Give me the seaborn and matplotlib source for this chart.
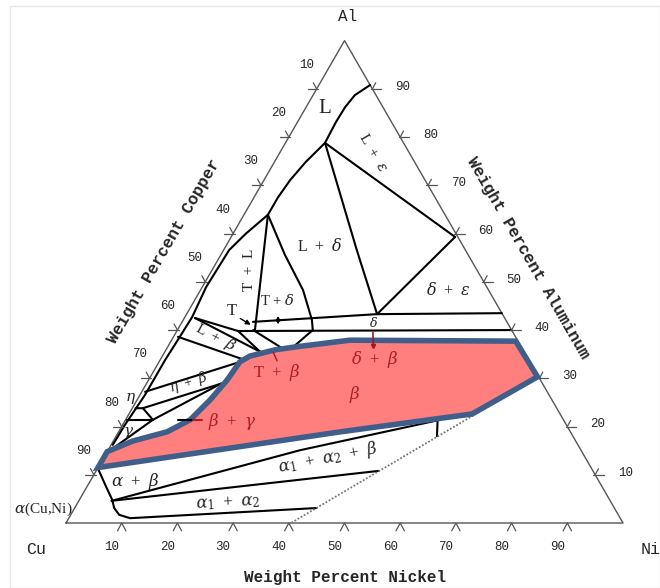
import numpy as np
import pandas as pd
import matplotlib.pyplot as plt
from matplotlib.patches import Rectangle
import seaborn as sns

sns.set_style("white")
plt.rcParams["mathtext.fontset"] = "dejavuserif"

# Phase boundaries, each point is (wt% Ni, wt% Al); Cu is the balance
liquidus = [(9.2, 90.8), (7.5, 88.7), (7.0, 86.2), (6.9, 83.1), (7.0, 80.9), (7.1, 78.8),
            (5.6, 74.8), (4.7, 71.1), (4.3, 67.5), (4.3, 63.9), (2.3, 60.0),
            (1.0, 56.6), (0.7, 48.9), (1.3, 42.7), (1.1, 37.9), (0.9, 33.8), (0.9, 26.5),
            (0.4, 20.3), (0.3, 16.2)]
tie_l_eps = [(7.1, 78.8), (40.2, 59.3)]
l_delta = [(7.1, 78.8), (23.9, 56.6), (34.2, 43.3)]
eps_delta = [(40.2, 59.3), (34.2, 43.3)]
delta_upper = [(12.7, 41.7), (34.2, 43.3), (56.5, 43.5)]
delta_lower = [(11.0, 39.8), (60.0, 40.0)]
t_l = [(4.3, 63.9), (14.0, 39.8)]
t_delta = [(4.3, 63.9), (11.5, 55.6), (18.4, 48.3), (23.1, 42.1), (24.3, 40.0), (22.6, 36.6)]
l_beta_upper = [(1.9, 42.5), (17.1, 35.5)]
l_beta_t = [(1.9, 42.5), (11.0, 39.8), (17.1, 35.5)]
l_beta_lower = [(0.8, 38.6), (14.6, 34.0)]
t_beta = [(13.6, 40.0), (20.2, 36.5)]
eta_upper = [(0.6, 27.2), (14.1, 33.2)]
eta_lower = [(1.9, 23.8), (13.4, 28.9)]
eta_gamma = [(0.6, 23.8), (1.9, 23.8), (4.9, 21.4), (13.4, 28.9)]
gamma_top = [(0.3, 21.4), (4.9, 21.4)]
gamma_beta = [(0.5, 15.2), (4.9, 21.4)]
alpha_solvus = [(0.0, 11.4), (3.1, 7.9), (5.9, 4.8), (7.1, 3.1), (8.7, 1.7), (11.0, 1.0), (43.4, 3.1)]
alpha_upper = [(5.9, 4.6), (50.7, 10.8)]
alpha_beta = [(5.9, 4.6), (34.5, 15.1), (56.5, 21.4)]
tie_short = [(56.2, 21.0), (57.6, 18.0)]
dotted_limit = [(69.7, 30.3), (40.4, 0.0)]

# highlighted beta field
beta_ni = [0.0, 0.0, 3.5, 8.7, 11.6, 13.1, 14.1, 14.5, 15.7, 19.6, 22.9, 32.0, 61.9, 69.5, 61.6, 39.8]
beta_al = [11.5, 14.8, 17.0, 18.9, 21.4, 25.5, 29.6, 33.4, 34.6, 35.9, 36.5, 37.9, 37.7, 30.3, 22.6, 18.9]

tick_values = [10, 20, 30, 40, 50, 60, 70, 80, 90]

# phase labels: text, wt% Ni, wt% Al, rotation, size
black_labels = [
    ("L", 3.5, 86.0, 0, 15),
    ("L  +  $\\varepsilon$", 16.7, 76.9, -60, 11),
    ("L  +  $\\delta$", 16.9, 57.4, 0, 11.5),
    ("T  +  L", 6.7, 52.4, 90, 11),
    ("T + $\\delta$", 14.8, 46.2, 0, 10.5),
    ("$\\delta$  +  $\\varepsilon$", 44.4, 48.3, 0, 11.5),
    ("$\\delta$", 34.4, 41.5, 0, 9),
    ("L  +  $\\beta$", 7.6, 38.6, -28, 11),
    ("$\\eta$  +  $\\beta$", 7.3, 29.2, 17, 10),
    ("$\\eta$", -1.3, 25.9, 0, 11),
    ("$\\gamma$", 1.8, 18.7, 0, 11),
    ("$\\alpha$  +  $\\beta$", 8.0, 8.7, 0, 12),
    ("$\\alpha_1$  +  $\\alpha_2$  +  $\\beta$", 40.3, 13.5, 11, 12),
    ("$\\alpha_1$  +  $\\alpha_2$", 27.0, 4.15, 3, 12),
    ("$\\alpha$(Cu,Ni)", -5.6, 2.9, 0, 11),
]
red_labels = [
    ("$\\beta$  +  $\\gamma$", 19.3, 21.1),
    ("T  +  $\\beta$", 22.2, 31.3),
    ("$\\delta$  +  $\\beta$", 38.4, 33.8),
    ("$\\beta$", 38.5, 26.7),
]


def tern(ni, al):
    ni = np.asarray(ni, dtype=float)
    al = np.asarray(al, dtype=float)
    return ni + al / 2, al * np.sqrt(3) / 2


boundaries = {
    "liquidus": liquidus, "tie_l_eps": tie_l_eps, "l_delta": l_delta, "eps_delta": eps_delta,
    "delta_upper": delta_upper, "delta_lower": delta_lower, "t_l": t_l, "t_delta": t_delta,
    "l_beta_upper": l_beta_upper, "l_beta_t": l_beta_t, "l_beta_lower": l_beta_lower,
    "t_beta": t_beta, "eta_upper": eta_upper, "eta_lower": eta_lower, "eta_gamma": eta_gamma,
    "gamma_top": gamma_top, "gamma_beta": gamma_beta, "alpha_solvus": alpha_solvus,
    "alpha_upper": alpha_upper, "alpha_beta": alpha_beta, "tie_short": tie_short,
}
rows = []
for name, pts in boundaries.items():
    for ni, al in pts:
        x, y = tern(ni, al)
        rows.append((name, float(x), float(y)))
df = pd.DataFrame(rows, columns=["boundary", "x", "y"])

fig = plt.figure(figsize=(6.6, 5.88), dpi=100)
ax = fig.add_axes([0, 0, 1, 1])

# faint frame like the scanned page
fig.patches.append(Rectangle((0.015, 0.0), 0.985, 0.99, transform=fig.transFigure,
                             fill=False, edgecolor="#e8e8e8", lw=1))

# triangle edges
cx, cy = tern([0, 100, 0, 0], [0, 0, 100, 0])
ax.plot(cx, cy, color="#555555", lw=1.0, zorder=1)

sns.lineplot(data=df, x="x", y="y", units="boundary", estimator=None, sort=False,
             color="black", lw=1.5, ax=ax, zorder=2)

dx, dy = tern([p[0] for p in dotted_limit], [p[1] for p in dotted_limit])
ax.plot(dx, dy, color="#777777", lw=1.3, ls=(0, (1, 1)), zorder=2)

# small arrows / pointers
ax.annotate("", xy=tern(17.8, 40.6), xytext=tern(16.3, 43.5),
            arrowprops=dict(arrowstyle="<|-|>", color="black", lw=1, mutation_scale=6))
ax.annotate("", xy=tern(13.2, 40.8), xytext=tern(9.5, 42.7),
            arrowprops=dict(arrowstyle="-|>", color="black", lw=1, mutation_scale=7))
ax.text(*tern(7.8, 43.95), "T", family="Liberation Serif", fontsize=12, ha="center", va="center")

bx, by = tern(beta_ni, beta_al)
ax.fill(bx, by, facecolor="#ff7f7f", edgecolor="#3f5f8a", lw=4, zorder=3)

ax.plot(*tern([35.3, 36.8], [39.6, 36.7]), color="#a01820", lw=1.2, zorder=4)
ax.plot(*tern([36.8], [36.7]), marker="v", ms=3, color="#a01820", zorder=4)
ax.plot(*tern([19.5, 21.1], [35.4, 33.6]), color="#a01820", lw=1.0, zorder=4)
ax.plot(*tern([9.4, 12.2], [21.35, 21.35]), color="black", lw=1.5, zorder=4)
ax.plot(*tern([12.2, 13.8], [21.35, 21.35]), color="#b01e23", lw=1.5, zorder=4)

for txt, ni, al, rot, size in black_labels:
    ax.text(*tern(ni, al), txt, family="Liberation Serif", fontsize=size, rotation=rot,
            ha="center", va="center", zorder=5)
for txt, ni, al in red_labels:
    ax.text(*tern(ni, al), txt, family="Liberation Serif", fontsize=12, color="#b01e23",
            ha="center", va="center", zorder=5)

# ticks and tick labels on the three sides
tl = 1.6
for t in tick_values:
    # bottom: Ni
    x, y = tern(t, 0)
    ax.plot([x - 0.75, x, x + 0.75], [y - 1.4, y, y - 1.4], color="#555555", lw=0.9)
    ax.text(x - 1.8, y - 4.3, str(t), family="Liberation Mono", fontsize=9,
            ha="center", va="center")
    # left: Cu
    x, y = tern(0, 100 - t)
    ax.plot([x - tl, x + 0.3], [y, y], color="#555555", lw=0.9)
    ax.plot([x - 0.6, x], [y + 1.1, y], color="#555555", lw=0.9)
    ax.text(x - 1.8, y + 4.3, str(t), family="Liberation Mono", fontsize=9,
            ha="center", va="center")
    # right: Al
    x, y = tern(100 - t, t)
    ax.plot([x - 0.3, x + tl], [y, y], color="#555555", lw=0.9)
    ax.plot([x + 0.6, x], [y + 1.1, y], color="#555555", lw=0.9)
    ax.text(x + 5.4, y + 0.4, str(t), family="Liberation Mono", fontsize=9,
            ha="center", va="center")

ax.text(50.1, -9.7, "Weight Percent Nickel", family="Liberation Mono", fontsize=11.5,
        fontweight="bold", ha="center", va="center")
ax.text(17.6, 48.8, "Weight Percent Copper", family="Liberation Mono", fontsize=12,
        fontweight="bold", rotation=60, ha="center", va="center")
ax.text(83.0, 47.6, "Weight Percent Aluminum", family="Liberation Mono", fontsize=12,
        fontweight="bold", rotation=-60, ha="center", va="center")
ax.text(-5.4, -4.7, "Cu", family="Liberation Mono", fontsize=12, ha="center", va="center")
ax.text(105.0, -4.7, "Ni", family="Liberation Mono", fontsize=12, ha="center", va="center")
ax.text(50.6, 91.0, "Al", family="Liberation Mono", fontsize=11.5, ha="center", va="center")

ax.set_xlim(-11.85, 106.64)
ax.set_ylim(-11.67, 93.9)
ax.set_xlabel("")
ax.set_ylabel("")
ax.axis("off")
fig.savefig("out.png", dpi=100)
